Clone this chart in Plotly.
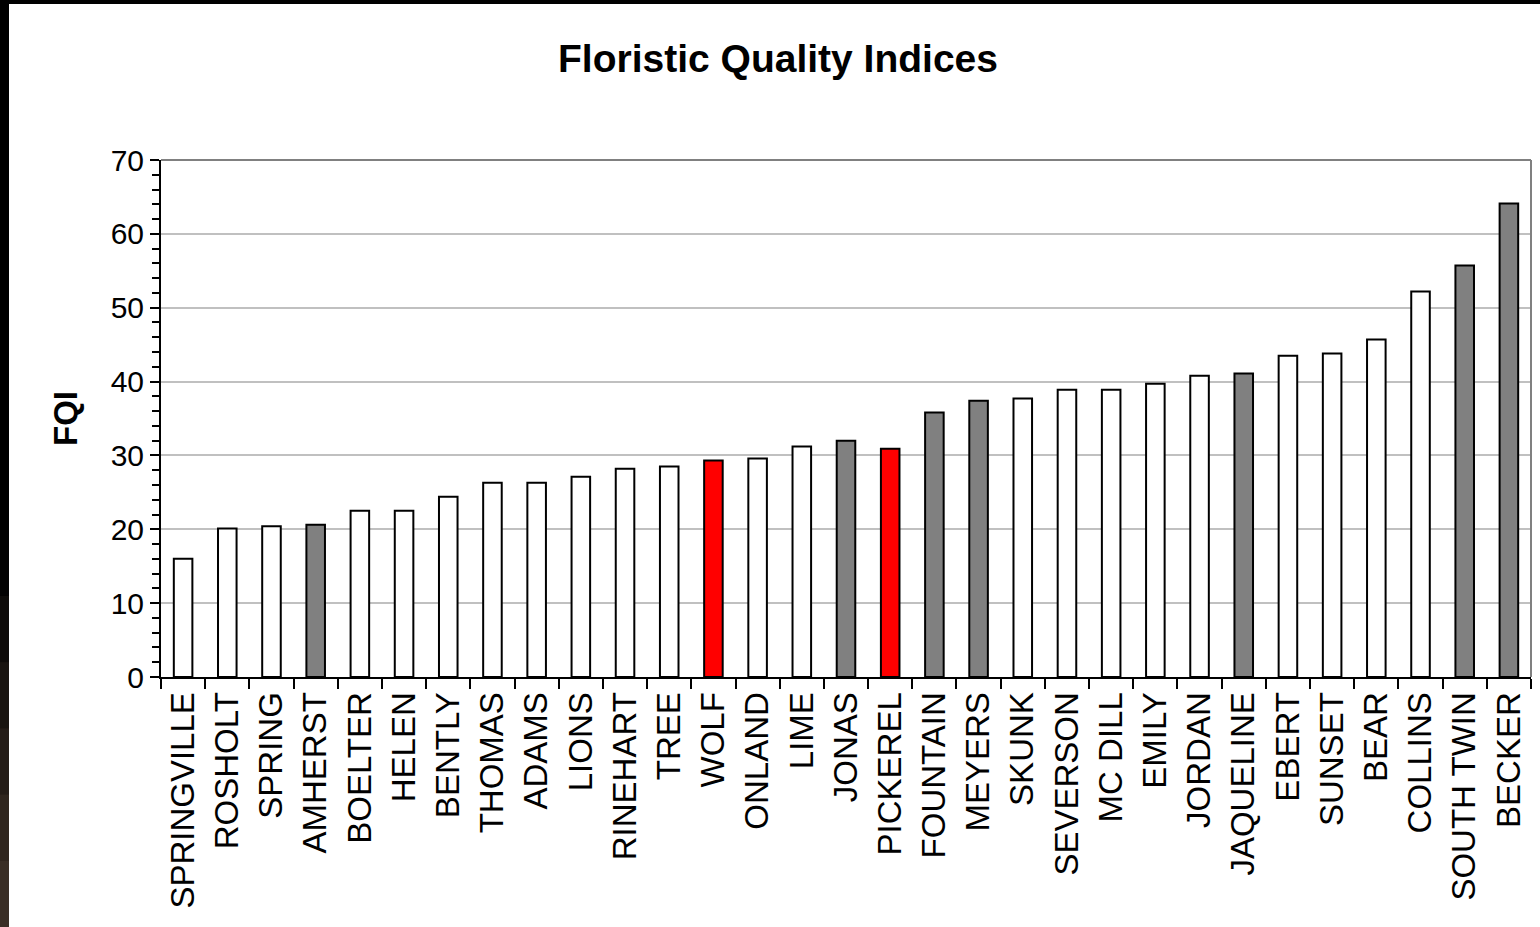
import plotly.graph_objects as go

sites = ["SPRINGVILLE", "ROSHOLT", "SPRING", "AMHERST", "BOELTER", "HELEN", "BENTLY",
         "THOMAS", "ADAMS", "LIONS", "RINEHART", "TREE", "WOLF", "ONLAND", "LIME",
         "JONAS", "PICKEREL", "FOUNTAIN", "MEYERS", "SKUNK", "SEVERSON", "MC DILL",
         "EMILY", "JORDAN", "JAQUELINE", "EBERT", "SUNSET", "BEAR", "COLLINS",
         "SOUTH TWIN", "BECKER"]
fqi = [16.0, 20.1, 20.4, 20.6, 22.5, 22.5, 24.4, 26.3, 26.3, 27.1, 28.2, 28.5, 29.3,
       29.6, 31.2, 32.0, 30.9, 35.8, 37.4, 37.7, 38.9, 38.9, 39.7, 40.8, 41.1, 43.5,
       43.8, 45.7, 52.2, 55.7, 64.1]
gray_sites = ["AMHERST", "JONAS", "FOUNTAIN", "MEYERS", "JAQUELINE", "SOUTH TWIN", "BECKER"]
red_sites = ["WOLF", "PICKEREL"]

colors = ["#808080" if s in gray_sites else "#FF0000" if s in red_sites else "#FFFFFF"
          for s in sites]

W, H = 1540, 927
L, R, T, B = 161, 1531, 160, 677


def px(x):
    return (x - L) / (R - L)


def py(y):
    return (B - y) / (B - T)


FONT = "Arial, Liberation Sans, sans-serif"

fig = go.Figure(go.Bar(
    x=sites, y=fqi,
    marker=dict(color=colors, line=dict(color="black", width=2)),
    showlegend=False,
))

shapes = [
    # gray plot-area border (top and right)
    dict(type="line", xref="paper", yref="paper", x0=0, x1=1, y0=1, y1=1,
         line=dict(color="#808080", width=2)),
    dict(type="line", xref="paper", yref="paper", x0=1, x1=1, y0=0, y1=1,
         line=dict(color="#808080", width=2)),
    # dark frame
    dict(type="rect", xref="paper", yref="paper", x0=px(0), x1=px(W), y0=py(0), y1=py(4),
         fillcolor="black", line=dict(width=0), layer="above"),
]
# left frame band, black fading to brown near the bottom
n = 14
for i in range(n):
    y0 = i * H / n
    y1 = (i + 1) * H / n
    t = max(0.0, (i - n * 0.55) / (n * 0.45))
    r = int(0 + 70 * t)
    g = int(0 + 55 * t)
    b = int(0 + 45 * t)
    shapes.append(dict(type="rect", xref="paper", yref="paper",
                       x0=px(0), x1=px(9), y0=py(y0), y1=py(y1 + 1),
                       fillcolor=f"rgb({r},{g},{b})", line=dict(width=0), layer="above"))

fig.update_layout(
    width=W, height=H,
    margin=dict(l=L, r=W - R, t=T, b=H - B),
    paper_bgcolor="white", plot_bgcolor="white",
    bargap=0.58,
    font=dict(family=FONT, color="black"),
    title=dict(text="<b>Floristic Quality Indices</b>", xref="container", yref="container",
               x=778 / W, y=1 - 58 / H, xanchor="center", yanchor="middle",
               font=dict(size=39, family=FONT, color="black")),
    shapes=shapes,
    annotations=[dict(text="<b>FQI</b>", xref="paper", yref="paper",
                      x=px(65), y=py(418), xanchor="center", yanchor="middle",
                      textangle=-90, showarrow=False,
                      font=dict(size=33, family=FONT, color="black"))],
)

fig.update_xaxes(
    type="category", showline=True, linecolor="black", linewidth=2,
    ticks="outside", tickson="boundaries", ticklen=10, tickwidth=2, tickcolor="black",
    tickangle=-90, tickfont=dict(size=33, family=FONT, color="black"),
    showgrid=False, zeroline=False, fixedrange=True,
)
fig.update_yaxes(
    range=[0, 70], dtick=10, tick0=0, showline=True, linecolor="black", linewidth=2,
    ticks="outside", ticklen=9, tickwidth=2, tickcolor="black",
    tickfont=dict(size=30, family=FONT, color="black"),
    showgrid=True, gridcolor="#C0C0C0", gridwidth=1.5, zeroline=False,
    minor=dict(dtick=2, ticks="outside", ticklen=7, tickwidth=2, tickcolor="black",
               showgrid=False),
    fixedrange=True,
)

fig.write_html("out.html")
